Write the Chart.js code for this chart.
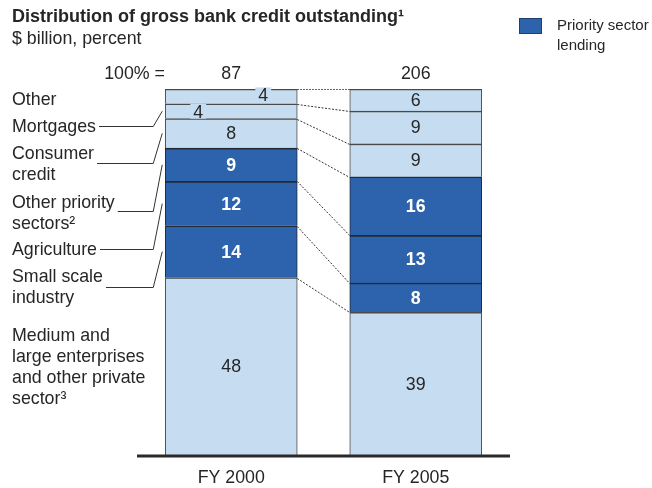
<!DOCTYPE html>
<html>
<head>
<meta charset="utf-8">
<script src="https://cdn.jsdelivr.net/npm/chart.js@4/dist/chart.umd.min.js"></script>
<style>
  html, body { margin: 0; padding: 0; background: #ffffff; }
  #wrap { width: 652px; height: 488px; position: relative; }
</style>
</head>
<body>
<div id="wrap"><canvas id="chart" width="652" height="488"></canvas></div>
<script>
// Credit categories, bottom of the stack first
const categories = [
  'Medium and large enterprises and other private sector',
  'Small scale industry',
  'Agriculture',
  'Other priority sectors',
  'Consumer credit',
  'Mortgages',
  'Other'
];
const categoryLines = [
  ['Medium and', 'large enterprises', 'and other private', 'sector\u00B3'],
  ['Small scale', 'industry'],
  ['Agriculture'],
  ['Other priority', 'sectors\u00B2'],
  ['Consumer', 'credit'],
  ['Mortgages'],
  ['Other']
];
const years = ['FY 2000', 'FY 2005'];
const shareFY2000 = [48, 14, 12, 9, 8, 4, 4];
const shareFY2005 = [39, 8, 13, 16, 9, 9, 6];
const totalsBillion = [87, 206];
const isPriority = [false, true, true, true, false, false, false];

const LIGHT = '#c6ddf1';
const DARK = '#2d63ad';
const INK = '#262626';
const FONT = '"Liberation Sans", Arial, sans-serif';
const TEXT_PX = 17.8;

const columns = [shareFY2000, shareFY2005];
const columnSums = columns.map(c => c.reduce((a, b) => a + b, 0));

// Each stack is drawn as a share of its own column total (100%)
const datasets = categories.map((name, i) => ({
  label: name,
  data: columns.map((col, j) => col[i] / columnSums[j] * 100),
  raw: columns.map(col => col[i]),
  backgroundColor: isPriority[i] ? DARK : LIGHT,
  borderColor: isPriority[i] ? '#232a35' : '#4a4a4a',
  borderWidth: { top: 1.6, left: 1, right: 1, bottom: 0 },
  borderSkipped: false,
  barThickness: 132
}));

// Text layout for the left-hand captions: centre of first line, leader line height
const captionLayout = [
  { y: 336, leader: null },
  { y: 277, leader: 287 },
  { y: 250, leader: 249 },
  { y: 203, leader: 211 },
  { y: 154, leader: 163 },
  { y: 127, leader: 126 },
  { y: 100, leader: null }
];
// Small FY 2000 segments carry their numbers off-centre
const valueNudge = { '0-6': { dx: 32, dy: -1 }, '0-5': { dx: -33, dy: 0.5 } };

const annotate = {
  id: 'annotate',
  afterDatasetsDraw(chart) {
    const ctx = chart.ctx;
    const area = chart.chartArea;
    const metas = categories.map((_, i) => chart.getDatasetMeta(i));

    // dashed connectors between matching segment boundaries
    ctx.save();
    ctx.strokeStyle = '#333';
    ctx.lineWidth = 1;
    ctx.setLineDash([2, 1.5]);
    for (let i = 1; i < categories.length; i++) {
      const a = metas[i].data[0], b = metas[i].data[1];
      ctx.beginPath();
      ctx.moveTo(a.x + a.width / 2, Math.round(a.base) + 0.5);
      ctx.lineTo(b.x - b.width / 2, Math.round(b.base) + 0.5);
      ctx.stroke();
    }
    const topA = metas[categories.length - 1].data[0], topB = metas[categories.length - 1].data[1];
    ctx.setLineDash([1.5, 1.5]);
    ctx.beginPath();
    ctx.moveTo(topA.x + topA.width / 2, Math.round(topA.y) + 0.5);
    ctx.lineTo(topB.x - topB.width / 2, Math.round(topB.y) + 0.5);
    ctx.stroke();
    ctx.restore();

    // baseline
    ctx.save();
    ctx.strokeStyle = '#2a2a2a';
    ctx.lineWidth = 3;
    ctx.beginPath();
    ctx.moveTo(area.left - 2, area.bottom + 1);
    ctx.lineTo(area.right + 2, area.bottom + 1);
    ctx.stroke();
    ctx.restore();

    // segment values
    ctx.save();
    ctx.textAlign = 'center';
    ctx.textBaseline = 'middle';
    for (let i = 0; i < categories.length; i++) {
      for (let j = 0; j < years.length; j++) {
        const el = metas[i].data[j];
        const v = datasets[i].raw[j];
        let x = el.x, y = (el.y + el.base) / 2;
        const n = valueNudge[j + '-' + i];
        if (isPriority[i]) {
          ctx.font = 'bold ' + TEXT_PX + 'px ' + FONT;
          ctx.fillStyle = '#ffffff';
        } else {
          ctx.font = TEXT_PX + 'px ' + FONT;
          ctx.fillStyle = INK;
        }
        if (n) {
          x += n.dx; y += n.dy;
          const w = ctx.measureText(String(v)).width + 6;
          ctx.fillStyle = LIGHT;
          ctx.fillRect(x - w / 2, y - 8, w, 15);
          ctx.fillStyle = INK;
        }
        ctx.fillText(String(v), x, y + 1);
      }
    }
    ctx.restore();

    // captions with leader lines
    ctx.save();
    ctx.font = TEXT_PX + 'px ' + FONT;
    ctx.fillStyle = INK;
    ctx.textAlign = 'left';
    ctx.textBaseline = 'middle';
    ctx.strokeStyle = '#333';
    ctx.lineWidth = 1;
    for (let i = 0; i < categories.length; i++) {
      const lay = captionLayout[i];
      categoryLines[i].forEach((line, k) => ctx.fillText(line, 12, lay.y + k * 21));
      if (lay.leader !== null) {
        const el = metas[i].data[0];
        const tx = 12 + ctx.measureText(categoryLines[i][0]).width + 3;
        const ly = lay.leader + 0.5;
        const cy = (el.y + el.base) / 2;
        const bx = el.x - el.width / 2;
        ctx.beginPath();
        ctx.moveTo(tx, ly);
        ctx.lineTo(bx - 12, ly);
        ctx.lineTo(bx - 3, cy);
        ctx.stroke();
      }
    }
    ctx.restore();

    // totals above the bars and category labels under the axis
    ctx.save();
    ctx.font = TEXT_PX + 'px ' + FONT;
    ctx.fillStyle = INK;
    ctx.textBaseline = 'middle';
    ctx.textAlign = 'right';
    ctx.fillText('100% =', 165, 74);
    ctx.textAlign = 'center';
    years.forEach((yr, j) => {
      const el = metas[0].data[j];
      ctx.fillText(String(totalsBillion[j]), el.x, 74);
      ctx.fillText(yr, el.x, 478);
    });
    ctx.restore();

    // title, unit line and legend
    ctx.save();
    ctx.fillStyle = INK;
    ctx.textBaseline = 'middle';
    ctx.textAlign = 'left';
    ctx.font = 'bold 18px ' + FONT;
    ctx.fillText('Distribution of gross bank credit outstanding\u00B9', 12, 17);
    ctx.font = TEXT_PX + 'px ' + FONT;
    ctx.fillText('$ billion, percent', 12, 39);
    ctx.fillStyle = DARK;
    ctx.fillRect(519.5, 18.5, 22, 15);
    ctx.strokeStyle = '#1d3f72';
    ctx.lineWidth = 1;
    ctx.strokeRect(519.5, 18.5, 22, 15);
    ctx.fillStyle = INK;
    ctx.font = '15px ' + FONT;
    ctx.fillText('Priority sector', 557, 26);
    ctx.fillText('lending', 557, 46);
    ctx.restore();
  }
};

new Chart(document.getElementById('chart'), {
  type: 'bar',
  data: { labels: years, datasets },
  options: {
    responsive: false,
    devicePixelRatio: 1,
    animation: false,
    layout: { padding: { left: 139, right: 144, top: 89, bottom: 33 } },
    plugins: { legend: { display: false }, tooltip: { enabled: false }, title: { display: false } },
    scales: {
      x: { stacked: true, display: false },
      y: { stacked: true, display: false, min: 0, max: 100 }
    }
  },
  plugins: [annotate]
});
</script>
</body>
</html>
